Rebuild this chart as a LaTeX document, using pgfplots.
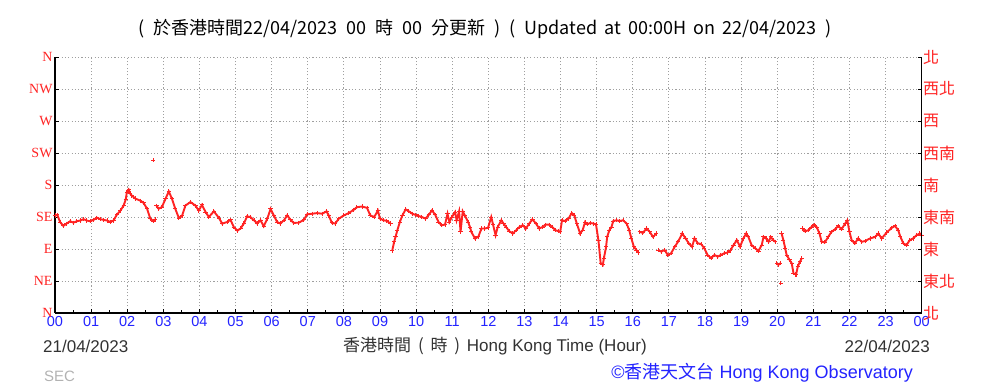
\documentclass[border=0pt]{standalone}
\usepackage{fontspec}
\usepackage{pgfplots}
\pgfplotsset{compat=1.18}
\setmainfont{Liberation Sans}
\newfontfamily\cjk{Noto Sans CJK TC}
\newfontfamily\serifr{Liberation Serif}
\definecolor{dred}{RGB}{255,35,35}
\definecolor{tblue}{RGB}{35,35,255}
\definecolor{dgray}{RGB}{50,50,50}
\begin{document}
\begin{tikzpicture}
\useasboundingbox (0pt,0pt) rectangle (983pt,388pt);
\begin{axis}[
  at={(55pt,75pt)}, anchor=south west,
  scale only axis, width=866.7pt, height=256pt,
  xmin=0, xmax=24, ymin=0, ymax=360,
  axis x line*=bottom, axis y line*=left,
  axis line style={-, black, line width=1.4pt},
  xtick={0,...,24},
  xticklabels={00,01,02,03,04,05,06,07,08,09,10,11,12,13,14,15,16,17,18,19,20,21,22,23,00},
  minor x tick num=1,
  ytick={0,45,...,360},
  yticklabels={N,NE,E,SE,S,SW,W,NW,N},
  tick align=inside,
  major tick length=4pt, minor tick length=2.5pt,
  tick style={black, line width=0.9pt},
  grid=major,
  major grid style={gray!75, line width=0.9pt, dash pattern=on 1.1pt off 2.2pt},
  xticklabel style={font=\fontsize{14.5}{14.5}\selectfont, text=tblue, yshift=0pt},
  yticklabel style={font=\serifr\fontsize{14}{14}\selectfont, text=dred, xshift=1pt},
  clip=false,
]
\addplot[dred, line width=1.9pt, mark=+, mark size=2.1pt, mark options={line width=0.9pt}, unbounded coords=jump] table {
x y
0 137
0.065 138
0.14 128
0.23 122.5
0.32 125.7
0.42 129
0.51 127
0.6 129
0.7 130
0.79 132
0.88 130
0.97 129
1.07 131
1.16 134
1.25 132
1.34 131
1.44 130
1.53 128
1.62 130
1.71 138
1.81 144
1.9 151
1.96 160
1.99 170
2.04 173.5
2.08 168
2.13 165
2.22 161
2.36 158
2.45 155
2.55 146.6
2.64 132.7
2.73 129
2.78 132
nan nan
2.81 151
2.87 146.6
2.96 149
3.06 160.5
3.15 171
3.24 160.5
3.33 146.6
3.43 133.6
3.52 137
3.61 151
3.75 156
3.89 151
3.98 144
4.07 152
4.17 142
4.26 135
4.4 143
4.54 133.6
4.63 125.7
4.77 128
4.86 131
4.95 121
5.05 115.7
5.14 119
5.23 125.8
5.32 136
5.41 135
5.51 130.4
5.6 125.8
5.69 130.4
5.78 122
5.88 132.7
5.97 146.5
6.06 137.3
6.15 128
6.24 125.8
6.34 130.4
6.43 137.3
6.52 131.3
6.61 126.7
6.75 127
6.89 131
6.98 138.7
7.12 139.6
7.26 140.5
7.4 139.6
7.52 143
7.58 137
7.67 126.7
7.76 125.8
7.86 132.7
8.0 137.3
8.13 140.5
8.27 145
8.36 148.8
8.5 149.7
8.64 147.9
8.73 137.3
8.84 135
8.94 144
9.0 132.7
9.1 130.4
9.19 129.5
9.29 125.8
nan nan
9.34 88
9.39 100
9.43 107
9.48 116.4
9.55 128
9.62 137.3
9.71 145.7
9.8 143
9.89 139.6
9.98 138
10.07 136.4
10.16 135
10.26 132.7
10.35 138
10.44 144.3
10.53 138
10.62 128
10.71 123.4
10.8 124.3
10.87 139.6
10.92 128
10.99 135
11.08 142
11.12 130.4
11.19 143
11.23 114
11.29 143
11.35 137.3
11.44 128
11.49 121
11.53 114
11.63 104.8
11.72 107
11.81 118.8
11.9 118.8
11.99 119.7
12.08 135
12.13 124.3
12.2 109.5
12.26 121
12.36 130.4
12.42 125.7
12.49 121
12.58 115
12.68 111.8
12.77 116.4
12.86 121
12.95 123.4
13.04 118.8
13.13 125.7
13.22 131.7
13.32 125.7
13.41 118.8
13.5 121
13.59 124.3
13.68 124.3
13.77 121
13.86 116.4
13.95 115
13.99 114
14.04 130.4
14.13 129.4
14.22 132.7
14.31 140.6
14.38 137.3
14.45 125.7
14.54 111.8
14.61 116.4
14.68 128
14.74 124.8
14.82 126.6
14.91 125.7
14.98 124.8
15.05 101.6
15.11 70
15.17 67.7
15.2 77
15.26 93
15.29 107
15.35 116.4
15.41 121
15.46 129.4
15.55 130.4
15.64 129.4
15.73 130.4
15.83 125.7
15.9 116.4
15.96 105
16.03 93
16.1 88.6
16.15 85
nan nan
16.19 114
16.28 112.7
16.38 118.8
16.47 114
16.56 107
16.65 111.8
nan nan
16.7 88.6
16.79 86.3
16.88 88.6
16.97 81.6
17.06 84
17.16 93
17.25 100
17.37 111.8
17.46 105
17.55 98
17.64 93
17.71 105
17.8 98
17.89 97
17.98 91
18.07 81.6
18.17 77
18.26 81.6
18.35 79.3
18.44 81.6
18.53 84
18.62 85
18.7 88
18.79 95.6
18.88 102.5
18.97 93.2
19.06 104.8
19.14 111.8
19.2 107
19.29 95.6
19.39 91
19.48 87.2
19.57 95.6
19.62 107
19.69 104.8
19.76 100.2
19.82 107
19.89 102.5
19.94 100.2
nan nan
19.99 70
20.03 67.7
20.08 70
nan nan
20.12 111.8
20.17 102.5
20.22 91
20.26 81.6
20.34 74.7
20.4 70
20.45 56
nan nan
20.5 54
20.52 53.8
20.57 65.4
20.63 72.4
20.68 77
nan nan
20.7 118.8
20.77 115
20.86 116.4
20.95 121
21.02 124.3
21.09 121
21.17 111.8
21.23 100.2
21.32 99.3
21.41 107
21.5 114
21.6 117.8
21.69 122.5
21.78 117.8
21.88 125.7
21.94 130.4
22.0 114
22.06 102.5
22.15 98
22.24 104.8
22.34 100.2
22.43 101.1
22.57 104.8
22.71 107
22.8 111.8
22.89 104.8
23.03 113.2
23.17 119.7
23.26 122.5
23.35 116.4
23.41 107.2
23.49 98
23.58 95.6
23.67 102.5
23.76 104.8
23.86 109.5
23.95 111.8
24.0 108.6
};
\addplot[only marks, dred, mark=+, mark size=2.1pt, mark options={line width=0.9pt}] table {
x y
2.72 215
20.1 42
};
\end{axis}
\begin{axis}[
  at={(55pt,75pt)}, anchor=south west,
  scale only axis, width=866.7pt, height=256pt,
  xmin=0, xmax=24, ymin=0, ymax=360,
  axis x line=none, axis y line*=right,
  axis line style={-, black, line width=1.4pt},
  ytick={0,45,...,360},
  yticklabels={北,東北,東,東南,南,西南,西,西北,北},
  tick align=inside, major tick length=4pt,
  tick style={black, line width=0.9pt},
  yticklabel style={font=\cjk\fontsize{16}{16}\selectfont, text=dred, xshift=-2pt},
]
\end{axis}
\node[font=\cjk\fontsize{18}{18}\selectfont, text=black] at (485pt,359pt) {(\hspace{0.5em}於香港時間22/04/2023\hspace{0.5em}00\hspace{0.5em}時\hspace{0.5em}00\hspace{0.5em}分更新\hspace{0.5em})\hspace{0.5em}(\hspace{0.5em}Updated\hspace{0.4em}at\hspace{0.4em}00:00H\hspace{0.4em}on\hspace{0.4em}22/04/2023\hspace{0.5em})};
\node[font=\fontsize{17}{17}\selectfont, text=dgray, anchor=west, inner sep=0pt] at (43pt,42pt) {21/04/2023};
\node[font=\fontsize{17}{17}\selectfont, text=dgray, anchor=east, inner sep=0pt] at (930pt,42pt) {22/04/2023};
\node[font=\fontsize{17}{17}\selectfont, text=dgray, inner sep=0pt] at (495pt,42pt) {{\cjk 香港時間\hspace{0.4em}(\hspace{0.4em}時\hspace{0.4em})}\hspace{0.4em}Hong Kong Time (Hour)};
\node[font=\fontsize{15}{15}\selectfont, text=gray!60, anchor=west, inner sep=0pt] at (44pt,12pt) {SEC};
\node[font=\fontsize{18}{18}\selectfont, text=tblue, anchor=east, inner sep=0pt] at (913pt,15pt) {©{\cjk 香港天文台} Hong Kong Observatory};
\end{tikzpicture}
\end{document}
